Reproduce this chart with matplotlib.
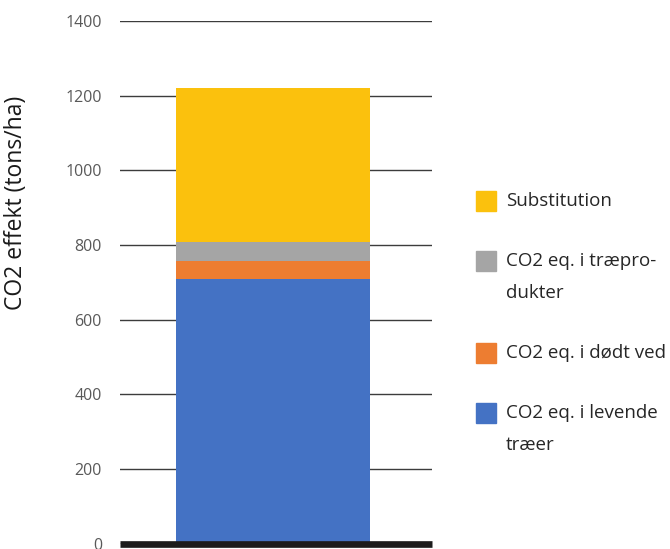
import matplotlib.pyplot as plt
from matplotlib.patches import Rectangle

plt.rcParams['font.family'] = ['Open Sans', 'DejaVu Sans']

# stacked components, bottom to top (tons CO2 per ha)
components = ["CO2 eq. i levende\ntræer", "CO2 eq. i dødt ved",
              "CO2 eq. i træpro-\ndukter", "Substitution"]
values = [709, 48, 50, 413]
colors = ["#4472C4", "#ED7D31", "#A5A5A5", "#FBC10D"]
yticks = [0, 200, 400, 600, 800, 1000, 1200, 1400]

W, H = 670, 549
fig = plt.figure(figsize=(W / 100, H / 100), dpi=100)
ax = fig.add_axes([120 / W, 5.5 / H, 312 / W, (543.5 - 21.3) / H])

bottom = 0
for val, col in zip(values, colors):
    ax.bar(0, val, bottom=bottom, width=0.62, color=col, zorder=2)
    bottom += val

ax.set_xlim(-0.49, 0.51)
ax.set_ylim(0, 1400)
ax.set_yticks(yticks)
ax.set_xticks([])
ax.yaxis.grid(True, color="#3c3c3c", lw=1)
ax.set_axisbelow(True)
ax.axhline(0, color="#1c1c1c", lw=4.8, clip_on=False, zorder=3,
           solid_capstyle="butt")
for s in ax.spines.values():
    s.set_visible(False)
ax.tick_params(axis="y", length=0, pad=13, labelsize=11.5, labelcolor="#595959")

fig.text(16 / W, 1 - 203 / H, "CO2 effekt (tons/ha)", rotation=90,
         ha="center", va="center", fontsize=16.5, color="#1a1a1a")

# legend drawn by hand, top entry first
y = 201
for label, col in zip(components[::-1], colors[::-1]):
    fig.patches.append(Rectangle((476 / W, 1 - (y + 10) / H), 20 / W, 20 / H,
                                 transform=fig.transFigure, color=col))
    lines = label.split("\n")
    for i, line in enumerate(lines):
        fig.text(506 / W, 1 - (y + i * 32) / H, line, ha="left", va="center",
                 fontsize=13.5, color="#262626")
    y += len(lines) * 32 + 28

fig.savefig("out.png", dpi=100)
